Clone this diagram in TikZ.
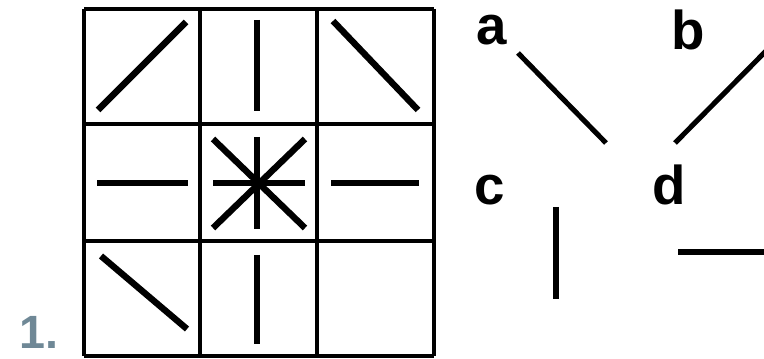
\documentclass[tikz,border=0pt]{standalone}
\usepackage{fontspec}
\setmainfont{Liberation Sans}
\definecolor{numgray}{RGB}{111,136,150}
\tikzset{
  gridline/.style={line width=2.4pt, draw=black},
  stroke/.style={line width=4.8pt, draw=black},
  thinstroke/.style={line width=3.8pt, draw=black},
  letter/.style={font=\fontsize{41}{41}\selectfont\bfseries, inner sep=0pt, anchor=base}
}
\begin{document}
\begin{tikzpicture}[x=0.75pt, y=-0.75pt]
  \useasboundingbox (0,0) rectangle (764,359);

  % grid
  \foreach \gx in {84,200,317,434}
    \draw[gridline] (\gx,9) -- (\gx,356);
  \foreach \gy in {9,124,241,356}
    \draw[gridline] (84,\gy) -- (434,\gy);

  % top row
  \draw[stroke] (98,110) -- (186,22);
  \draw[stroke] (257,20) -- (257,111);
  \draw[stroke] (333,21) -- (418,110);
  % middle row
  \draw[stroke] (97,183) -- (188,183);
  \draw[stroke] (257,137) -- (257,229);
  \draw[stroke] (213,183) -- (305,183);
  \draw[stroke] (213,139) -- (305,228);
  \draw[stroke] (305,139) -- (213,228);
  \draw[stroke] (331,183) -- (419,183);
  % bottom row
  \draw[stroke] (101,256) -- (187,329);
  \draw[stroke] (257,255) -- (257,344);

  \node[font=\fontsize{35}{35}\selectfont\bfseries, text=numgray, inner sep=0pt, anchor=base west] (num) at (19,349) {1.};

  % answer choices
  \node[letter] (a) at (492,45) {a};
  \node[letter] (b) at (688,50) {b};
  \node[letter] (c) at (490,205) {c};
  \node[letter] (d) at (669,205) {d};
  \draw[thinstroke] (518,53) -- (606,143);
  \draw[thinstroke] (675,143) -- (766,51);
  \draw[thinstroke] (556,207) -- (556,299);
  \draw[thinstroke] (678,252) -- (766,252);
\end{tikzpicture}
\end{document}
